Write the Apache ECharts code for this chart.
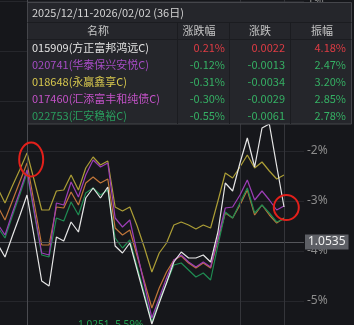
<!DOCTYPE html>
<html><head><meta charset="utf-8">
<script src="https://cdn.jsdelivr.net/npm/echarts@6/dist/echarts.min.js"></script>
<style>html,body{margin:0;padding:0;background:#16171b;}#c{width:354px;height:325px;}</style>
</head><body><div id="c"></div>
<script>
// x positions: trading-day index (index 4 = 2025/12/11, index 39 = 2026/02/02)
const dayIndex = [0,1,2,3,4,5,6,7,8,9,10,11,12,13,14,15,16,17,18,19,20,21,22,23,24,25,26,27,28,29,30,31,32,33,34,35,36,37,38,39];
// series values (% change)
const s015909 = [-3.86,-4.12,-3.70,-3.30,-2.88,-3.74,-4.60,-4.70,-3.72,-3.80,-3.42,-3.62,-2.94,-2.74,-2.94,-2.72,-3.90,-4.04,-3.84,-4.38,-4.92,-5.46,-5.04,-4.64,-4.22,-4.02,-4.14,-4.14,-4.08,-4.22,-3.62,-2.64,-2.80,-2.24,-1.74,-2.32,-1.54,-1.46,-2.30,-3.12];
const s018648 = [-2.74,-3.04,-2.70,-2.38,-2.04,-2.60,-3.18,-3.18,-2.80,-2.78,-2.48,-2.78,-2.34,-2.12,-2.28,-2.20,-3.12,-3.20,-3.12,-3.50,-3.94,-4.42,-4.04,-3.84,-3.48,-3.42,-3.48,-3.56,-3.48,-3.54,-3.00,-2.44,-2.54,-2.32,-2.08,-2.34,-2.22,-2.40,-2.56,-2.48];
const s020741 = [-3.46,-3.68,-3.24,-2.82,-2.38,-3.22,-4.04,-4.08,-3.04,-3.08,-2.62,-2.92,-2.48,-2.18,-2.32,-2.24,-3.34,-3.52,-3.38,-4.04,-4.68,-5.34,-4.94,-4.54,-4.18,-4.08,-4.22,-4.32,-4.22,-4.32,-3.74,-3.14,-3.12,-2.88,-2.58,-2.98,-2.80,-2.98,-3.18,-3.10];
const s017460 = [-3.10,-3.38,-3.00,-2.62,-2.24,-3.06,-3.88,-3.88,-3.12,-3.14,-2.82,-3.08,-2.64,-2.52,-2.64,-2.56,-3.54,-3.68,-3.58,-4.10,-4.62,-5.14,-4.74,-4.42,-4.18,-4.10,-4.24,-4.34,-4.24,-4.34,-3.78,-3.24,-3.34,-3.08,-2.78,-3.28,-3.08,-3.28,-3.44,-3.34];
const s022753 = [-3.52,-3.74,-3.30,-2.88,-2.44,-3.26,-4.08,-4.12,-3.34,-3.40,-3.02,-3.28,-2.84,-2.74,-2.88,-2.78,-3.74,-3.94,-3.78,-4.32,-4.86,-5.42,-4.98,-4.64,-4.28,-4.24,-4.38,-4.52,-4.44,-4.58,-3.88,-3.22,-3.34,-3.04,-2.74,-3.24,-3.08,-3.24,-3.42,-3.36];

// table contents
const tableTitle = '2025/12/11-2026/02/02 (36日)';
const tableHeaders = ['名称','涨跌幅','涨跌','振幅'];
const fundNames = ['015909(方正富邦鸿远C)','020741(华泰保兴安悦C)','018648(永赢鑫享C)','017460(汇添富丰和纯债C)','022753(汇安稳裕C)'];
const changePct = ['0.21%','-0.12%','-0.31%','-0.30%','-0.55%'];
const changeAbs = ['0.0022','-0.0013','-0.0034','-0.0029','-0.0061'];
const amplitude = ['4.18%','2.47%','3.20%','2.85%','2.78%'];
const nameColors = ['#e2e2e2','#a64cc4','#d8c84e','#c452c8','#2a9e5e'];

const crossValueLabel = '1.0535';
const crossY = -3.82;
const crossX = 4;
const gridXs = [33, 39];
const minLabel = '1.0251 -5.59%';

const zip = arr => dayIndex.map((d, k) => [d, arr[k]]);

const lineSeries = [
  {name:'018648', data:s018648, color:'#ac9e36'},
  {name:'017460', data:s017460, color:'#c0763a'},
  {name:'022753', data:s022753, color:'#1f8c52'},
  {name:'020741', data:s020741, color:'#9c3eb6'},
  {name:'015909', data:s015909, color:'#e6e6e6'}
].map((s, k) => ({
  name: s.name, type: 'line', data: zip(s.data), symbol: 'none', smooth: false,
  lineStyle: {color: s.color, width: 1.2}, itemStyle: {color: s.color}, z: 2 + k, silent: true
}));
// crosshair & grid marks
lineSeries[4].markLine = {
  silent: true, symbol: 'none', animation: false,
  data: [
    {yAxis: crossY, lineStyle: {color: '#55565b', width: 1, type: 'solid'},
     label: {show: true, position: 'end', distance: 1, formatter: crossValueLabel, color: '#f0f0f0',
             backgroundColor: '#5d5f65', padding: [2, 3, 1, 3], fontSize: 12, fontFamily: 'Noto Sans'}},
    {xAxis: crossX, lineStyle: {color: '#4a4b50', width: 1, type: 'solid'}, label: {show: false}},
    ...gridXs.map(v => ({xAxis: v, lineStyle: {color: '#34353a', width: 1, type: 'solid'}, label: {show: false}}))
  ]
};
lineSeries[4].markPoint = {
  silent: true, symbol: 'circle', symbolSize: 1, itemStyle: {color: 'rgba(0,0,0,0)'}, animation: false,
  data: [{type: 'min', valueDim: 'y'}],
  label: {show: true, position: 'left', distance: 8, formatter: minLabel, color: '#23a352', fontSize: 10, fontFamily: 'Noto Sans', offset: [0, 1]}
};

// table graphic
const TX = 27.5, TW = 324, TY = 2.5;
const colSep = [177.5, 229.5, 290.5];
const titleH = 20, headH = 16, rowH = 16.9;
const rowTop0 = TY + titleH + headH + 1;
const font11 = '11px "Noto Sans CJK SC", "Noto Sans", sans-serif';
const g = [];
const tableBottom = rowTop0 + rowH * fundNames.length;
g.push({type:'rect', z:100, shape:{x:TX, y:TY, width:TW, height:tableBottom - TY}, style:{fill:'#25262b', stroke:'#45464b', lineWidth:1}});
g.push({type:'line', z:101, shape:{x1:TX, y1:TY+titleH, x2:TX+TW, y2:TY+titleH}, style:{stroke:'#1b1c20', lineWidth:1}});
g.push({type:'line', z:101, shape:{x1:TX, y1:TY+titleH+headH+1, x2:TX+TW, y2:TY+titleH+headH+1}, style:{stroke:'#1b1c20', lineWidth:1}});
colSep.forEach(x => g.push({type:'line', z:101, shape:{x1:x, y1:TY+titleH, x2:x, y2:tableBottom}, style:{stroke:'#1b1c20', lineWidth:1}}));
g.push({type:'text', z:102, x:TX+4.5, y:TY+titleH/2+0.5, style:{text:tableTitle, fill:'#d4d4d4', font:font11, align:'left', verticalAlign:'middle'}});
const headCx = [98, 199, 260, 322];
tableHeaders.forEach((h, k) => g.push({type:'text', z:102, x:headCx[k], y:TY+titleH+headH/2+0.5, style:{text:h, fill:'#c4c4c4', font:font11, align:'center', verticalAlign:'middle'}}));
const numRight = [225, 285, 346];
fundNames.forEach((n, r) => {
  const cy = rowTop0 + rowH * r + rowH / 2;
  g.push({type:'text', z:102, x:TX+4.5, y:cy, style:{text:n, fill:nameColors[r], font:font11, align:'left', verticalAlign:'middle'}});
  const up = changePct[r][0] !== '-';
  const col = up ? '#df3c44' : '#35b064';
  [changePct[r], changeAbs[r], amplitude[r]].forEach((t, c) => g.push({type:'text', z:102, x:numRight[c], y:cy, style:{text:t, fill:col, font:font11, align:'right', verticalAlign:'middle'}}));
});
// red annotation ellipses
g.push({type:'ellipse', z:110, shape:{cx:31.2, cy:159.5, rx:12, ry:17}, style:{fill:null, stroke:'#e3201b', lineWidth:2}});
g.push({type:'circle', z:110, shape:{cx:286.3, cy:207.5, r:12.5}, style:{fill:null, stroke:'#e3201b', lineWidth:2}});

const chart = echarts.init(document.getElementById('c'), null, {renderer:'canvas'});
chart.setOption({
  backgroundColor: '#16171b',
  animation: false,
  grid: {left: 0, right: 50, top: -49, height: 400, containLabel: false, outerBoundsMode: 'none'},
  xAxis: {type:'value', min:0.32, max:41.72, show:false, splitLine:{show:false}},
  yAxis: {type:'value', position:'right', min:-6, max:2, interval:1,
    axisLine:{show:false}, axisTick:{show:false},
    axisLabel:{formatter:'{value}%', color:'#8c8c8c', fontSize:12, margin:3, fontFamily:'Noto Sans'},
    splitLine:{show:true, lineStyle:{color:'#26272c', width:1}}},
  series: lineSeries,
  graphic: {elements: g}
});
</script></body></html>
